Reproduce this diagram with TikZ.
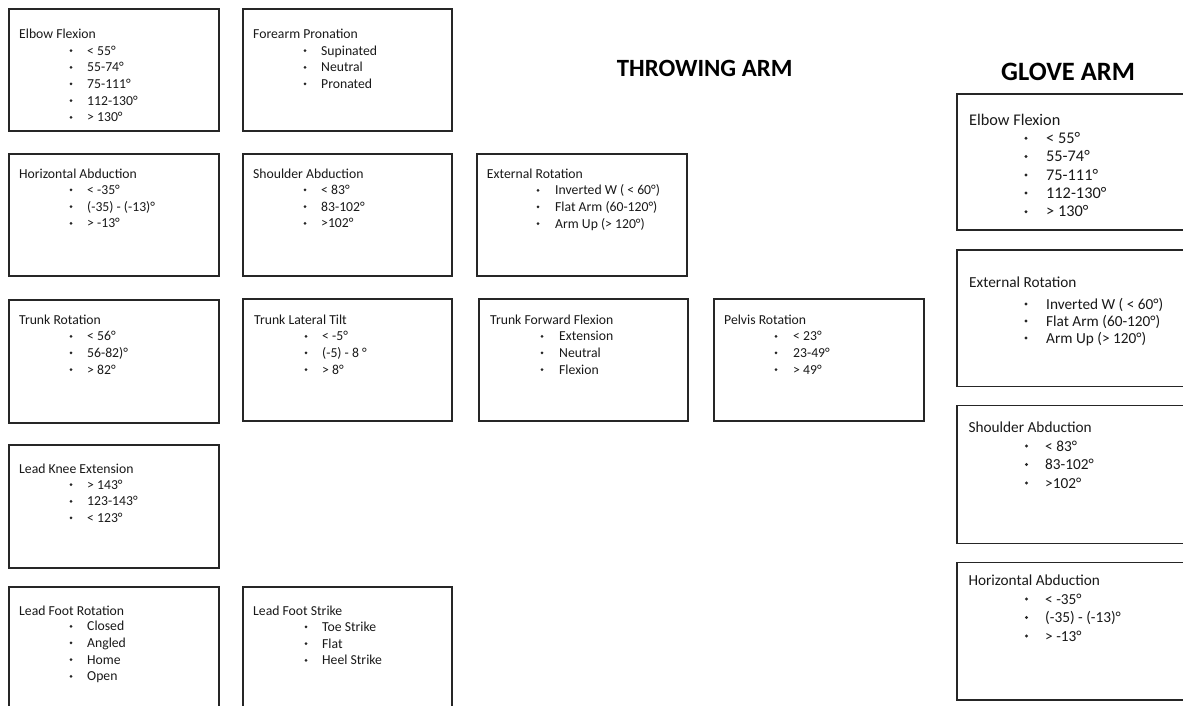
\documentclass[tikz,border=0pt]{standalone}
\usepackage{fontspec}
\setmainfont{Carlito}
\newcommand\fT{\fontsize{13.7}{16}\selectfont}
\newcommand\fG{\fontsize{15.3}{18}\selectfont}
\newcommand\fGe{\fontsize{16.3}{19}\selectfont}
\newcommand\fH{\fontsize{24.8}{28}\selectfont\bfseries}
\newcommand\fHg{\fontsize{26.5}{30}\selectfont\bfseries}
% item: name, bullet x, text x, baseline y, text
\newcommand\itm[5]{%
  \node[bul] (#1b) at ([yshift=\bulraise]#2,#4) {};
  \node[itx] (#1) at (#3,#4) {#5};}
\newcommand\bulraise{4.4pt}
\begin{document}
\begin{tikzpicture}[x=1pt,y=-1pt,
  cbox/.style={draw=black!85, line width=1.2pt, inner sep=0pt, outer sep=0pt, anchor=north west},
  ttl/.style={anchor=base west, inner sep=0pt, text=black!90},
  itx/.style={anchor=base west, inner sep=0pt, text=black!90},
  bul/.style={circle, fill=black!85, inner sep=0pt, minimum size=3pt},
  head/.style={anchor=base west, inner sep=0pt, text=black}]
\useasboundingbox (0,0) rectangle (1183,705);
\clip (0,0) rectangle (1183,705);
\fill[white] (0,0) rectangle (1183,705);

% ---------------- headings
\node[head, font=\fH] (thr) at (616.7,76.7) {THROWING ARM};
\node[head, font=\fHg] (glv) at (1001,80) {GLOVE ARM};

% ---------------- throwing arm boxes
\begin{scope}[every node/.append style={font=\fT}]
\node[cbox, minimum width=210pt, minimum height=122pt] (bEF) at (9,9) {};
\node[ttl] (tEF) at (19,38.3) {Elbow Flexion};
\itm{ef1}{71}{87}{55}{< 55°}
\itm{ef2}{71}{87}{71.7}{55-74°}
\itm{ef3}{71}{87}{88.3}{75-111°}
\itm{ef4}{71}{87}{105}{112-130°}
\itm{ef5}{71}{87}{121.7}{> 130°}

\node[cbox, minimum width=209pt, minimum height=122pt] (bFP) at (243,9) {};
\node[ttl] (tFP) at (253,38.3) {Forearm Pronation};
\itm{fp1}{305}{321}{55}{Supinated}
\itm{fp2}{305}{321}{71.7}{Neutral}
\itm{fp3}{305}{321}{88.3}{Pronated}

\node[cbox, minimum width=210pt, minimum height=122pt] (bHA) at (9,154) {};
\node[ttl] (tHA) at (19,178.3) {Horizontal Abduction};
\itm{ha1}{71}{87}{194.3}{< -35°}
\itm{ha2}{71}{87}{211}{(-35) - (-13)°}
\itm{ha3}{71}{87}{227.7}{> -13°}

\node[cbox, minimum width=209pt, minimum height=122pt] (bSA) at (243,154) {};
\node[ttl] (tSA) at (253,178.3) {Shoulder Abduction};
\itm{sa1}{305}{321}{194.3}{< 83°}
\itm{sa2}{305}{321}{211}{83-102°}
\itm{sa3}{305}{321}{227.7}{>102°}

\node[cbox, minimum width=210pt, minimum height=122pt] (bER) at (477,154) {};
\node[ttl] (tER) at (486.7,178.3) {External Rotation};
\itm{er1}{538}{555}{194.7}{Inverted W ( < 60°)}
\itm{er2}{538}{555}{211.3}{Flat Arm (60-120°)}
\itm{er3}{538}{555}{228}{Arm Up (> 120°)}

\node[cbox, minimum width=210pt, minimum height=123pt] (bTR) at (9,300) {};
\node[ttl] (tTR) at (19,324) {Trunk Rotation};
\itm{tr1}{71}{87}{340.7}{< 56°}
\itm{tr2}{71}{87}{357.3}{56-82)°}
\itm{tr3}{71}{87}{374}{> 82°}

\node[cbox, minimum width=209pt, minimum height=122pt] (bTL) at (243,299) {};
\node[ttl] (tTL) at (254,324) {Trunk Lateral Tilt};
\itm{tl1}{306}{322}{340.7}{< -5°}
\itm{tl2}{306}{322}{357.3}{(-5) - 8 °}
\itm{tl3}{306}{322}{374}{> 8°}

\node[cbox, minimum width=209pt, minimum height=122pt] (bTF) at (479,299) {};
\node[ttl] (tTF) at (490,324) {Trunk Forward Flexion};
\itm{tf1}{542}{559}{340.7}{Extension}
\itm{tf2}{542}{559}{357.3}{Neutral}
\itm{tf3}{542}{559}{374}{Flexion}

\node[cbox, minimum width=210pt, minimum height=122pt] (bPR) at (714,299) {};
\node[ttl] (tPR) at (724,324) {Pelvis Rotation};
\itm{pr1}{776}{793}{340.7}{< 23°}
\itm{pr2}{776}{793}{357.3}{23-49°}
\itm{pr3}{776}{793}{374}{> 49°}

\node[cbox, minimum width=210pt, minimum height=123pt] (bLK) at (9,445) {};
\node[ttl] (tLK) at (19,473) {Lead Knee Extension};
\itm{lk1}{71}{87}{489}{> 143°}
\itm{lk2}{71}{87}{505.7}{123-143°}
\itm{lk3}{71}{87}{522.3}{< 123°}

\node[cbox, minimum width=210pt, minimum height=140pt] (bLR) at (9,587) {};
\node[ttl] (tLR) at (19,615) {Lead Foot Rotation};
\itm{lr1}{71}{87}{630.7}{Closed}
\itm{lr2}{71}{87}{647.3}{Angled}
\itm{lr3}{71}{87}{664}{Home}
\itm{lr4}{71}{87}{680.7}{Open}

\node[cbox, minimum width=209pt, minimum height=140pt] (bLS) at (243,587) {};
\node[ttl] (tLS) at (253,615.7) {Lead Foot Strike};
\itm{ls1}{306}{322}{631.3}{Toe Strike}
\itm{ls2}{306}{322}{648}{Flat}
\itm{ls3}{306}{322}{664.7}{Heel Strike}
\end{scope}

% ---------------- glove arm boxes
\renewcommand\bulraise{5pt}
\begin{scope}[every node/.append style={font=\fGe}, bul/.append style={minimum size=3.3pt}]
\node[cbox, minimum width=240pt, minimum height=136pt] (gEF) at (957,94) {};
\node[ttl] (gtEF) at (969,125) {Elbow Flexion};
\itm{gef1}{1026}{1046}{143.3}{< 55°}
\itm{gef2}{1026}{1046}{161.5}{55-74°}
\itm{gef3}{1026}{1046}{180}{75-111°}
\itm{gef4}{1026}{1046}{198}{112-130°}
\itm{gef5}{1026}{1046}{216.7}{> 130°}
\end{scope}

\begin{scope}[every node/.append style={font=\fG}, bul/.append style={minimum size=3.3pt}]
\node[cbox, minimum width=240pt, minimum height=136.7pt] (gER) at (957,250) {};
\node[ttl] (gtER) at (969,287.3) {External Rotation};
\itm{ger1}{1026}{1046}{309}{Inverted W ( < 60°)}
\itm{ger2}{1026}{1046}{326}{Flat Arm (60-120°)}
\itm{ger3}{1026}{1046}{343}{Arm Up (> 120°)}

\node[cbox, minimum width=240pt, minimum height=138pt] (gSA) at (957,405.7) {};
\node[ttl] (gtSA) at (968.3,432.7) {Shoulder Abduction};
\itm{gsa1}{1026.5}{1045}{451}{< 83°}
\itm{gsa2}{1026.5}{1045}{469.5}{83-102°}
\itm{gsa3}{1026.5}{1045}{488}{>102°}

\node[cbox, minimum width=240pt, minimum height=137.3pt] (gHA) at (957,562.7) {};
\node[ttl] (gtHA) at (968.3,585.7) {Horizontal Abduction};
\itm{gha1}{1026.5}{1045}{604}{< -35°}
\itm{gha2}{1026.5}{1045}{622.5}{(-35) - (-13)°}
\itm{gha3}{1026.5}{1045}{641}{> -13°}
\end{scope}
\end{tikzpicture}
\end{document}
